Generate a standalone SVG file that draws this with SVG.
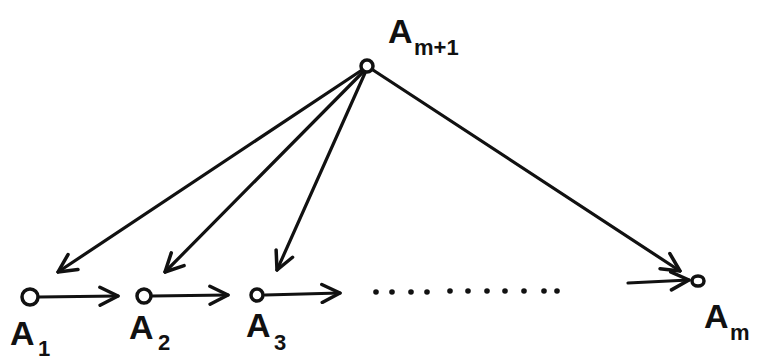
<svg xmlns="http://www.w3.org/2000/svg" width="758" height="360" viewBox="0 0 758 360">
<style>
.n{fill:none;stroke:#111;stroke-width:3.5}
.e{fill:none;stroke:#111;stroke-width:3.2;stroke-linecap:round}
.t{font-family:"Liberation Sans",Arial,sans-serif;font-weight:bold;fill:#111}
.big{font-size:34px}
.sub{font-size:22px}
.dot{fill:#111}
</style>
<defs>
<marker id="ah2" viewBox="0 0 22 22" refX="20" refY="11" markerWidth="22" markerHeight="22" markerUnits="userSpaceOnUse" orient="auto">
<path d="M2,2 L20,11 L2,20" fill="none" stroke="#111" stroke-width="3.5" stroke-linecap="round" stroke-linejoin="round"/>
</marker>
</defs>
<rect width="758" height="360" fill="#fff"/>
<g id="connectors">
<line class="e" x1="362" y1="70" x2="58" y2="272" marker-end="url(#ah2)"/>
<line class="e" x1="363" y1="72" x2="165" y2="272" marker-end="url(#ah2)"/>
<line class="e" x1="365" y1="73" x2="277" y2="270" marker-end="url(#ah2)"/>
<line class="e" x1="373" y1="70" x2="680" y2="271" marker-end="url(#ah2)"/>
<line class="e" x1="39" y1="297" x2="118" y2="296" marker-end="url(#ah2)"/>
<line class="e" x1="152" y1="296" x2="228" y2="295" marker-end="url(#ah2)"/>
<line class="e" x1="265" y1="295" x2="340" y2="293" marker-end="url(#ah2)"/>
<line class="e" x1="628" y1="283" x2="689" y2="280" marker-end="url(#ah2)"/>
<g id="dots">
<circle class="dot" cx="376" cy="292" r="2.8"/>
<circle class="dot" cx="392" cy="292" r="2.8"/>
<circle class="dot" cx="411" cy="292" r="2.8"/>
<circle class="dot" cx="427" cy="292" r="2.8"/>
<circle class="dot" cx="450" cy="291" r="2.8"/>
<circle class="dot" cx="468" cy="291" r="2.8"/>
<circle class="dot" cx="487" cy="291" r="2.8"/>
<circle class="dot" cx="505" cy="291" r="2.8"/>
<circle class="dot" cx="524" cy="291" r="2.8"/>
<circle class="dot" cx="544" cy="291" r="2.8"/>
<circle class="dot" cx="557" cy="291" r="2.8"/>
</g>
</g>
<g id="n_top">
<circle class="n" cx="367" cy="66" r="6"/>
<text class="t big" x="388" y="43">A</text>
<text class="t sub" x="414" y="55">m+1</text>
</g>
<g id="n_a1">
<circle class="n" cx="30" cy="297" r="8"/>
<text class="t big" x="10" y="345">A</text>
<text class="t sub" x="38" y="356">1</text>
</g>
<g id="n_a2">
<circle class="n" cx="144" cy="296" r="7"/>
<text class="t big" x="129" y="339">A</text>
<text class="t sub" x="158" y="350">2</text>
</g>
<g id="n_a3">
<circle class="n" cx="257" cy="295" r="6"/>
<text class="t big" x="246" y="337">A</text>
<text class="t sub" x="274" y="350">3</text>
</g>
<g id="n_am">
<ellipse class="n" cx="698" cy="281" rx="6" ry="5"/>
<text class="t big" x="704" y="328">A</text>
<text class="t sub" x="730" y="340">m</text>
</g>
</svg>
